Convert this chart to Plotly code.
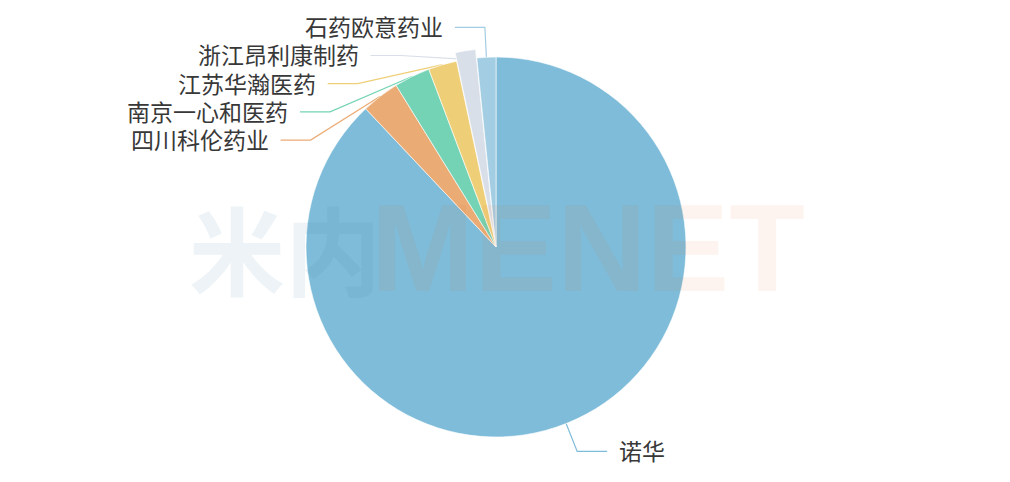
import math
import plotly.graph_objects as go

# ---- data ----
labels = ["诺华", "四川科伦药业", "南京一心和医药", "江苏华瀚医药", "浙江昂利康制药", "石药欧意药业"]
values = [87.97, 3.22, 3.06, 2.42, 1.72, 1.61]
colors = ["#7ebcd9", "#ebab75", "#74d3b4", "#eecf78", "#d8dfe8", "#a2cde3"]
pulls = [0, 0, 0, 0, 0.045, 0]

# ---- layout constants (pixels in the 1010x482 page) ----
PAGE_W, PAGE_H = 1010, 482
OFF = 8                      # default body margin of the html page
W, H = PAGE_W - 2 * OFF, PAGE_H - 2 * OFF
CX, CY, R = 496, 247, 190
L1, L2, GAP, LABEL_H = 30, 30, 10, 28.2
FONT = "Noto Sans CJK SC, Microsoft YaHei, sans-serif"


def px(x):
    return (x - OFF) / W


def py(y):
    return 1 - (y - OFF) / H


maxpull = max(pulls)
half = R * (1 + maxpull)
dom_x = [px(CX - half), px(CX + half)]
dom_y = [py(CY + half), py(CY - half)]

fig = go.Figure(go.Pie(
    labels=labels, values=values, sort=False, direction="clockwise", rotation=0,
    marker=dict(colors=colors, line=dict(color="white", width=0.6)),
    pull=pulls, textinfo="none", hoverinfo="label+percent",
    domain=dict(x=dom_x, y=dom_y), showlegend=False,
))

# ---- compute label positions from data ----
total = sum(values)
items = []
acc = 0
for lab, v, c in zip(labels, values, colors):
    mid = (acc + v / 2) / total * 2 * math.pi
    acc += v
    s, co = math.sin(mid), math.cos(mid)
    anchor = (CX + R * s, CY - R * co)
    elbow = (CX + (R + L1) * s, CY - (R + L1) * co)
    items.append(dict(label=lab, color=c, side=1 if s >= 0 else -1,
                      anchor=anchor, nat=elbow, y=elbow[1]))

for side in (1, -1):
    grp = sorted([it for it in items if it["side"] == side], key=lambda d: d["nat"][1])
    prev = None
    for it in grp:
        y = it["nat"][1]
        if prev is not None and y < prev + LABEL_H:
            y = prev + LABEL_H
        it["y"] = y
        prev = y

shapes, annotations = [], []
for it in items:
    ax, ay = it["anchor"]
    ny = it["y"]
    if ny > it["nat"][1] + 0.5:
        R2 = R + L1 - 6
        dx = math.sqrt(max(R2 * R2 - (ny - CY) ** 2, 0))
        ex = CX + it["side"] * dx
    else:
        ex = it["nat"][0]
    endx = ex + it["side"] * L2
    path = f"M {px(ax)} {py(ay)} L {px(ex)} {py(ny)} L {px(endx)} {py(ny)}"
    shapes.append(dict(type="path", path=path, xref="paper", yref="paper",
                       line=dict(color=it["color"], width=1.2), layer="below"))
    annotations.append(dict(
        text=it["label"], x=px(endx + it["side"] * GAP), y=py(ny - 1),
        xref="paper", yref="paper", showarrow=False,
        xanchor="left" if it["side"] > 0 else "right", yanchor="middle",
        font=dict(family=FONT, size=23, color="#383838"),
    ))

# ---- faint watermark ----
annotations.append(dict(
    text="<b>米内</b>", x=px(285), y=py(246), xref="paper", yref="paper", showarrow=False,
    xanchor="center", yanchor="middle",
    font=dict(family="Noto Sans CJK SC", size=96, color="rgba(80,140,170,0.10)"),
))
annotations.append(dict(
    text="<b>MENET</b>", x=px(588), y=py(248), xref="paper", yref="paper", showarrow=False,
    xanchor="center", yanchor="middle",
    font=dict(family="Liberation Sans, Arial", size=124, color="rgba(230,120,50,0.08)"),
))

fig.update_layout(
    width=W, height=H, margin=dict(l=0, r=0, t=0, b=0),
    paper_bgcolor="white", plot_bgcolor="white",
    shapes=shapes, annotations=annotations,
)

fig.write_html("out.html")
